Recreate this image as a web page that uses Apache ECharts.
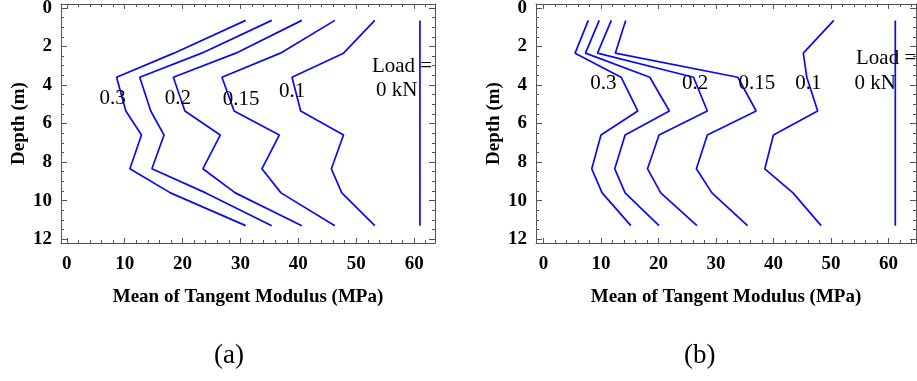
<!DOCTYPE html>
<html>
<head>
<meta charset="utf-8">
<script src="https://cdn.jsdelivr.net/npm/echarts@6/dist/echarts.min.js"></script>
<style>
  html, body { margin: 0; padding: 0; background: #fff; }
  #chart { width: 917px; height: 381px; }
</style>
</head>
<body>
<div id="chart"></div>
<script>
// depth of every vertex (m), shared by all curves
const depths = [0.65, 2.35, 3.6, 5.35, 6.6, 8.35, 9.6, 11.3]

// panel (a): mean tangent modulus (MPa), left to right
const curveA1 = [30.9, 18.5, 8.6, 10.2, 12.9, 10.9, 17.9, 30.9]
const curveA2 = [35.4, 23.3, 12.6, 14.5, 16.8, 14.7, 24.0, 35.4]
const curveA3 = [40.6, 29.2, 18.4, 20.4, 26.5, 23.5, 29.1, 40.6]
const curveA4 = [46.3, 36.9, 26.8, 28.9, 36.7, 33.7, 37.0, 46.3]
const curveA5 = [53.2, 47.8, 38.9, 40.4, 47.8, 45.7, 47.5, 53.2]
const zeroLoadA = 61.0

// panel (b)
const curveB1 = [7.8, 5.5, 13.5, 16.4, 10.0, 8.4, 10.2, 15.2]
const curveB2 = [9.7, 7.3, 18.5, 21.9, 14.2, 12.4, 14.2, 20.1]
const curveB3 = [11.8, 9.4, 26.1, 28.5, 20.1, 18.1, 20.4, 26.7]
const curveB4 = [14.3, 12.5, 33.8, 37.0, 28.5, 26.6, 29.3, 35.5]
const curveB5 = [50.5, 45.2, 45.8, 47.7, 40.0, 38.5, 43.4, 48.3]
const zeroLoadB = 61.2

// in-plot annotations: [text, modulus, depth]
const notesA = [['0.3', 7.9, 4.69], ['0.2', 19.2, 4.68], ['0.15', 30.1, 4.77], ['0.1', 38.9, 4.34], ['Load =', 57.9, 3.04], ['0 kN', 57.0, 4.29]]
const notesB = [['0.3', 10.4, 3.9], ['0.2', 26.4, 3.9], ['0.15', 37.1, 3.9], ['0.1', 46.1, 3.9], ['Load =', 59.6, 2.64], ['0 kN', 57.7, 3.91]]

const xRangeA = [-1.0, 63.6]
const xRangeB = [-1.3, 64.8]
const yRange = [-0.2, 12.2]

const xTitle = 'Mean of Tangent Modulus (MPa)'
const yTitle = 'Depth (m)'

const blue = '#0a0af5'
const frame = '#555'
const serif = '"Liberation Serif", "Times New Roman", serif'

function xAxis(grid, pos, range, labelled) {
  return {
    type: 'value', gridIndex: grid, position: pos,
    min: range[0], max: range[1], splitNumber: 6,
    axisLine: { show: true, onZero: false, lineStyle: { color: frame, width: 1 } },
    axisTick: { show: true, inside: true, length: 5, lineStyle: { color: frame } },
    minorTick: { show: true, splitNumber: 5, length: 3, lineStyle: { color: frame } },
    splitLine: { show: false },
    axisLabel: {
      show: labelled, showMinLabel: false, showMaxLabel: false, margin: 12,
      color: '#000', fontFamily: serif, fontWeight: 'bold', fontSize: 19
    },
    name: labelled ? xTitle : '', nameLocation: 'middle', nameGap: 45,
    nameTextStyle: { color: '#000', fontFamily: serif, fontWeight: 'bold', fontSize: 19 }
  }
}

function yAxis(grid, pos, labelled) {
  return {
    type: 'value', gridIndex: grid, position: pos, inverse: true,
    min: yRange[0], max: yRange[1], splitNumber: 6,
    axisLine: { show: true, onZero: false, lineStyle: { color: frame, width: 1 } },
    axisTick: { show: true, inside: true, length: 6, lineStyle: { color: frame } },
    minorTick: { show: true, splitNumber: 4, length: 3, lineStyle: { color: frame } },
    splitLine: { show: false },
    axisLabel: {
      show: labelled, showMinLabel: false, showMaxLabel: false, margin: 9,
      color: '#000', fontFamily: serif, fontWeight: 'bold', fontSize: 19
    },
    name: labelled ? yTitle : '', nameLocation: 'middle', nameGap: 32, nameRotate: 90,
    nameTextStyle: { color: '#000', fontFamily: serif, fontWeight: 'bold', fontSize: 19 }
  }
}

function curve(vals, g) {
  return {
    type: 'line', xAxisIndex: g * 2, yAxisIndex: g * 2, symbol: 'none', silent: true,
    lineStyle: { color: blue, width: 1.7 },
    data: depths.map((d, i) => [vals[i], d])
  }
}

function vertical(x, g) {
  return {
    type: 'line', xAxisIndex: g * 2, yAxisIndex: g * 2, symbol: 'none', silent: true,
    lineStyle: { color: blue, width: 1.7 },
    data: [[x, depths[0]], [x, depths[depths.length - 1]]]
  }
}

function notes(list, g) {
  return {
    type: 'scatter', xAxisIndex: g * 2, yAxisIndex: g * 2, silent: true, z: 5,
    symbolSize: 1, itemStyle: { color: 'rgba(0,0,0,0)', opacity: 1 },
    label: {
      show: true, position: 'inside', formatter: '{b}',
      color: '#000', textBorderWidth: 0, textBorderColor: 'transparent', opacity: 1,
      fontFamily: serif, fontSize: 21
    },
    data: list.map(n => ({ name: n[0], value: [n[1], n[2]] }))
  }
}

const chart = echarts.init(document.getElementById('chart'), null, { renderer: 'canvas' })

chart.setOption({
  backgroundColor: '#fff',
  animation: false,
  grid: [
    { left: 61, top: 4, width: 374, height: 239, outerBoundsMode: 'none' },
    { left: 536, top: 4, width: 380, height: 239, outerBoundsMode: 'none' }
  ],
  xAxis: [
    xAxis(0, 'bottom', xRangeA, true), xAxis(0, 'top', xRangeA, false),
    xAxis(1, 'bottom', xRangeB, true), xAxis(1, 'top', xRangeB, false)
  ],
  yAxis: [
    yAxis(0, 'left', true), yAxis(0, 'right', false),
    yAxis(1, 'left', true), yAxis(1, 'right', false)
  ],
  graphic: [
    { type: 'text', left: 214, top: 342, style: { text: '(a)', font: '27px ' + serif, fill: '#000' } },
    { type: 'text', left: 684, top: 342, style: { text: '(b)', font: '27px ' + serif, fill: '#000' } }
  ],
  series: [
    curve(curveA1, 0), curve(curveA2, 0), curve(curveA3, 0), curve(curveA4, 0), curve(curveA5, 0),
    vertical(zeroLoadA, 0), notes(notesA, 0),
    curve(curveB1, 1), curve(curveB2, 1), curve(curveB3, 1), curve(curveB4, 1), curve(curveB5, 1),
    vertical(zeroLoadB, 1), notes(notesB, 1)
  ]
})
</script>
</body>
</html>
